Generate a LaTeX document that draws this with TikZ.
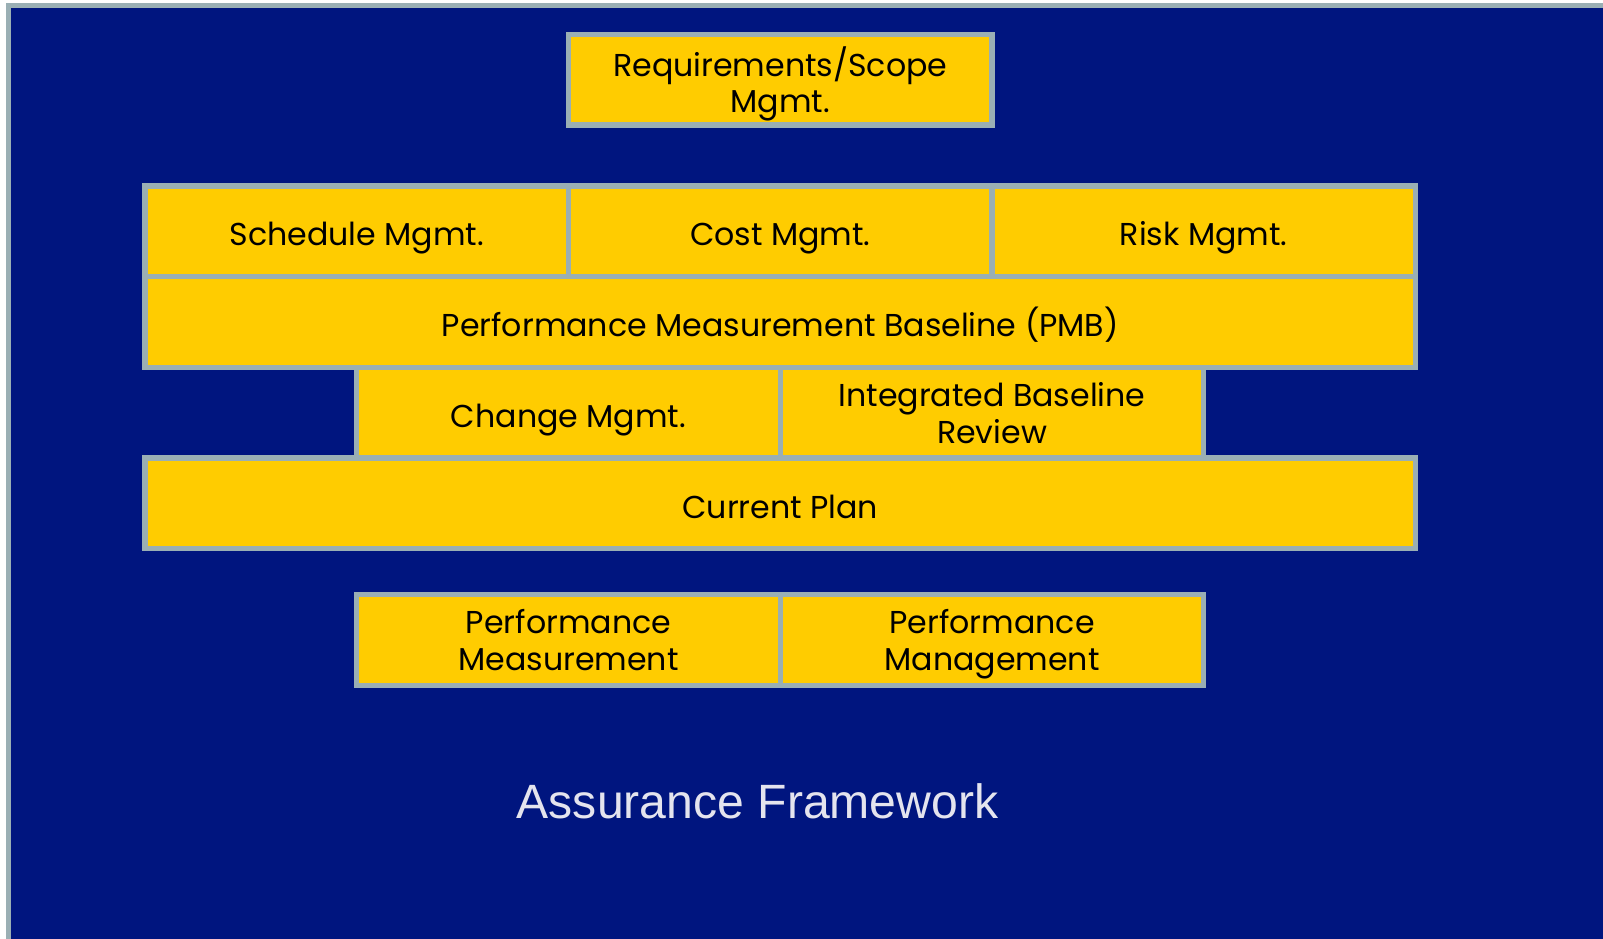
\documentclass[tikz,border=0pt]{standalone}
\usepackage{fontspec}
\usepackage{tikz}
\usetikzlibrary{positioning}
\usepackage{xcolor}
\newfontfamily\gothicfont{Poppins}
\newfontfamily\titlefont{Liberation Sans}
\definecolor{slidenavy}{HTML}{00157F}
\definecolor{blockgold}{HTML}{FFCC00}
\definecolor{rimgray}{HTML}{9AAFB4}
\definecolor{titlegray}{HTML}{E4E4EE}
% keeps the cap line of each label centred in its block
\newcommand{\capstrut}{\rule[-0.25em]{0pt}{1.45em}}

\begin{document}
\begin{tikzpicture}[node distance=0cm and 0cm,
  block/.style={draw=rimgray, fill=blockgold, line width=0.053cm, inner sep=0pt, outer sep=0pt,
    minimum width=4.235cm, minimum height=0.907cm, align=center, text=black, text depth=0.25em,
    font=\gothicfont\fontsize{9}{10.5}\selectfont, execute at begin node=\capstrut},
  twoline/.style={text depth=0pt},
  wideblock/.style={block, minimum width=12.705cm}]
  \useasboundingbox (0,0) rectangle (16.03,-9.39);
  \clip (0,0) rectangle (16.03,-9.39);
  \fill[white] (0,0) rectangle (16.03,-9.39);
  \draw[draw=rimgray, fill=slidenavy, line width=0.053cm] (0.087,-0.058) rectangle (16.5,-9.8);

  % management row and the layers below it
  \node[block] (schedule) at (3.5675,-2.3135) {Schedule Mgmt.};
  \node[block, right=of schedule] (cost) {Cost Mgmt.};
  \node[block, right=of cost] (risk) {Risk Mgmt.};
  \node[block, twoline, above=0.61cm of cost] (scope) {Requirements/Scope\\Mgmt.};
  \node[wideblock, below=of cost] (pmb) {Performance Measurement Baseline (PMB)};
  \node[block, below left=of pmb.south] (change) {Change Mgmt.};
  \node[block, twoline, right=of change] (ibr) {Integrated Baseline\\Review};
  \node[wideblock, below=of change.south east] (plan) {Current Plan};
  \node[block, twoline, below left=0.46cm and 0cm of plan.south] (perfmeas) {Performance\\Measurement};
  \node[block, twoline, right=of perfmeas] (perfmgmt) {Performance\\Management};

  \node[anchor=base, text=titlegray, font=\titlefont\fontsize{13.7}{16}\selectfont] (framework) at (7.576,-8.18) {Assurance Framework};
\end{tikzpicture}
\end{document}
